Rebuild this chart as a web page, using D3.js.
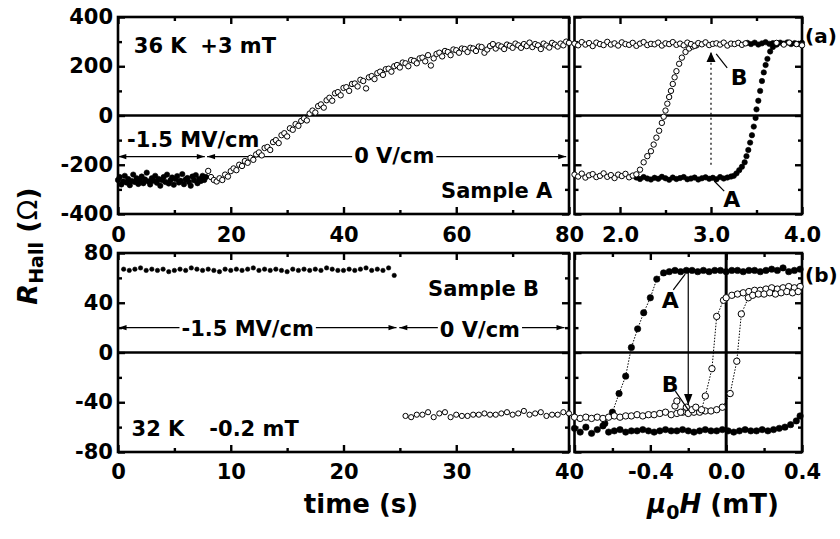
<!DOCTYPE html>
<html lang="en">
  <head>
    <meta charset="utf-8" />
    <title>Hall resistance</title>
    <script src="https://d3js.org/d3.v7.min.js"></script>
    <style>
      body { margin: 0; background: #fff; }
    </style>
  </head>
  <body>
    <div id="container"></div>
    <script>
      var width = 840;
      var height = 539;
      var FONT = "'DejaVu Sans', Arial, sans-serif";

      // ---- data ----
      // (a) left: R_Hall vs time, sample A, 36 K, +3 mT
      var aFieldStart = 0, aFieldStep = 0.3;
      var aField = [-262,-250,-280,-268,-245,-272,-258,-283,-266,-240,-270,-255,-278,-262,-248,-275,-260,-232,-268,-280,-255,-265,-245,-273,-258,-285,-262,-250,-270,-240,-276,-263,-252,-281,-258,-246,-272,-265,-238,-279,-260,-254,-270,-285,-248,-263,-242,-275,-258,-266,-245,-262,-250];
      var aZeroStart = 16, aZeroStep = 0.5;
      var aZero = [-225,-250,-262,-268,-255,-262,-240,-248,-226,-215,-222,-200,-205,-185,-192,-172,-180,-158,-150,-162,-132,-128,-140,-108,-100,-112,-80,-72,-85,-52,-58,-35,-42,-22,-12,-20,8,20,12,38,45,32,62,72,60,90,95,82,112,115,100,128,130,118,145,140,110,155,160,148,172,178,165,188,190,178,200,205,195,215,212,200,225,222,212,232,235,220,245,203,232,250,255,240,262,258,245,268,265,255,272,270,258,275,272,262,280,278,255,268,282,290,272,285,280,270,288,283,275,292,285,275,290,282,296,278,290,285,270,292,284,276,295,288,280,292,285,300,295];

      // (a) right: hysteresis loops vs field (mT)
      var aOpenTop = [292,285,298,288,294,282,296,290,286,299,288,293,284,297,290,287,295,283,292,298,286,291,289,296,284,293,290,298,287,292,285,296,290,283,294,289,297,286,291,293,288,296,284,292,290,295,287,293];
      var aOpenBottom = [-240,-248,-236,-252,-243,-238,-250,-245,-235,-249,-242,-254,-240,-246,-237,-251,-244,-239];
      var aOpenRise = [[2.22,-220],[2.26,-190],[2.30,-165],[2.34,-145],[2.37,-118],[2.40,-90],[2.43,-62],[2.46,-30],[2.48,-5],[2.50,20],[2.52,48],[2.54,75],[2.56,100],[2.58,128],[2.60,155],[2.62,180],[2.65,210],[2.68,235],[2.72,258],[2.76,272],[2.80,280],[2.84,285]];
      var aOpenEnd = [[3.72,295],[3.80,288],[3.86,296],[3.94,290],[4.0,285]];
      var aFilledBottom = [-252,-258,-250,-256,-260,-253,-257,-249,-255,-261,-252,-258,-254,-250,-259,-256,-252,-260,-255,-251,-257,-253,-259,-250,-256,-252,-248];
      var aFilledRise = [[3.25,-245],[3.28,-235],[3.31,-222],[3.34,-208],[3.37,-190],[3.39,-165],[3.41,-140],[3.43,-110],[3.45,-80],[3.47,-45],[3.49,-10],[3.50,25],[3.52,60],[3.54,100],[3.56,140],[3.58,175],[3.60,205],[3.62,230],[3.65,260],[3.68,278],[3.72,288]];
      var aFilledTop = [295,290,296,288,293,298,291,294,289,296,292,297,290,294,291,295];

      // (b) left: R_Hall vs time, sample B, 32 K, -0.2 mT
      var bField = [67,66,67,68,66,67,66,67,65,66,67,66,68,67,66,67,66,65,67,66,67,66,67,68,66,67,66,67,66,65,67,66,67,66,67,66,68,67,66,66,67,66,67,68,66,67,66,68,62];
      var bZero = [-51,-52,-50,-50,-48,-52,-49,-48,-52,-50,-51,-51,-50,-50,-49,-50,-50,-49,-48,-50,-49,-47,-50,-49,-48,-51,-50,-50,-48,-49];

      // (b) right: hysteresis loops
      var bFilledBottom = [-61,-64,-60,-65,-62,-59,-64,-63,-62,-64,-63,-63,-62,-63,-64,-63,-62,-63,-63,-62,-63,-64,-63,-62,-63,-63,-62,-63,-64,-63,-62,-63,-63,-62,-63,-62,-61,-60,-58];
      var bFilledEnd = [[0.37,-55],[0.39,-51]];
      var bFilledRise = [[-0.64,-57],[-0.60,-48],[-0.565,-33],[-0.53,-19],[-0.50,4],[-0.467,19],[-0.435,32],[-0.40,44],[-0.366,59],[-0.33,64]];
      var bFilledTop = [65,66,65,66,66,65,66,65,66,66,65,66,66,65,66,66,65,66,67,66,68,65,66,67];
      var bOpenBottom = [-52,-53,-52,-53,-52,-53,-52,-51,-52,-51,-51,-50,-51,-50,-50,-49,-48,-50,-49,-48,-49,-48,-48,-47,-47,-46,-44];
      var bOpenScatter = [[-0.27,-43],[-0.26,-39],[-0.24,-48],[-0.21,-44],[-0.18,-46],[-0.16,-44],[-0.13,-46]];
      var bOpenRise1 = [[-0.11,-35],[-0.075,-13],[-0.05,29],[-0.014,42]];
      var bOpenTop1 = [44,46,47,48,49,50,50,51,52,51,52,53,52,53];
      var bOpenRise2 = [[0.021,-33],[0.056,-7],[0.08,31],[0.117,44]];
      var bOpenTop2 = [46,47,47,48,47,48,49,48,49];

      function seq(start, step, vals) {
        return vals.map(function (v, i) { return [start + i * step, v]; });
      }

      // ---- scales ----
      var xA = d3.scaleLinear().domain([0, 80]).range([118, 569]);
      var yA = d3.scaleLinear().domain([-400, 400]).range([214, 17]);
      var xAr = d3.scaleLinear().domain([1.5, 4.0]).range([574.5, 802]);
      var xB = d3.scaleLinear().domain([0, 40]).range([118, 569]);
      var yB = d3.scaleLinear().domain([-80, 80]).range([452, 253]);
      var xBr = d3.scaleLinear().domain([-0.8, 0.4]).range([574.5, 802]);

      var svg = d3
        .select("#container")
        .append("svg")
        .attr("width", width)
        .attr("height", height)
        .style("font-family", FONT);

      // arrow heads
      var defs = svg.append("defs");
      function marker(id, len, half) {
        defs.append("marker")
          .attr("id", id)
          .attr("viewBox", (-1) + " " + (-half - 1) + " " + (len + 2) + " " + (2 * half + 2))
          .attr("refX", len)
          .attr("refY", 0)
          .attr("markerUnits", "userSpaceOnUse")
          .attr("markerWidth", len + 2)
          .attr("markerHeight", 2 * half + 2)
          .attr("orient", "auto-start-reverse")
          .append("path")
          .attr("d", "M0," + (-half) + "L" + len + ",0L0," + half + "Z")
          .attr("fill", "#000");
      }
      marker("small", 8, 2.6);
      marker("big", 11, 4.2);
      marker("mid", 10, 4.5);

      function fmtInt(d) { return String(d); }
      function fmt1(d) { return d3.format(".1f")(d).replace("\u2212", "-"); }
      function blank() { return ""; }

      function addAxis(axis, pos, values, size, fmt, pad) {
        var g = svg.append("g")
          .attr("transform", pos)
          .call(axis.tickValues(values).tickSize(size).tickPadding(pad || 3).tickFormat(fmt || blank));
        g.select(".domain").remove();
        g.selectAll("line").attr("stroke", "#000").attr("stroke-width", 2.4);
        g.selectAll("text")
          .attr("fill", "#000")
          .attr("font-size", 21)
          .attr("font-weight", "bold")
          .attr("font-family", FONT);
        return g;
      }

      function panel(x, y, xMaj, xMin, yMaj, yMin, xFmt, yFmt, xPad) {
        var x0 = x.range()[0], x1 = x.range()[1];
        var yb = y.range()[0], yt = y.range()[1];
        addAxis(d3.axisBottom(x), "translate(0," + yb + ")", xMaj, -7, xFmt, xPad);
        addAxis(d3.axisBottom(x), "translate(0," + yb + ")", xMin, -4);
        addAxis(d3.axisTop(x), "translate(0," + yt + ")", xMaj, -7);
        addAxis(d3.axisTop(x), "translate(0," + yt + ")", xMin, -4);
        addAxis(d3.axisLeft(y), "translate(" + x0 + ",0)", yMaj, -7, yFmt, 5);
        addAxis(d3.axisLeft(y), "translate(" + x0 + ",0)", yMin, -4);
        addAxis(d3.axisRight(y), "translate(" + x1 + ",0)", yMaj, -7);
        addAxis(d3.axisRight(y), "translate(" + x1 + ",0)", yMin, -4);
        // zero line
        svg.append("line")
          .attr("x1", x0).attr("x2", x1)
          .attr("y1", y(0)).attr("y2", y(0))
          .attr("stroke", "#000").attr("stroke-width", 2.6);
        svg.append("rect")
          .attr("x", x0).attr("y", yt)
          .attr("width", x1 - x0).attr("height", yb - yt)
          .attr("fill", "none").attr("stroke", "#000").attr("stroke-width", 2.6);
      }

      function dots(pts, x, y, r, filled) {
        svg.append("g")
          .selectAll("circle")
          .data(pts)
          .join("circle")
          .attr("cx", function (d) { return x(d[0]); })
          .attr("cy", function (d) { return y(d[1]); })
          .attr("r", r)
          .attr("fill", filled ? "#000" : "#fff")
          .attr("stroke", "#000")
          .attr("stroke-width", filled ? 0.6 : 1);
      }

      function dotted(pts, x, y) {
        svg.append("path")
          .datum(pts)
          .attr("d", d3.line().x(function (d) { return x(d[0]); }).y(function (d) { return y(d[1]); }))
          .attr("fill", "none")
          .attr("stroke", "#000")
          .attr("stroke-width", 1)
          .attr("stroke-dasharray", "1.5,1.5");
      }

      function label(txt, px, py, size, anchor) {
        return svg.append("text")
          .attr("x", px).attr("y", py)
          .attr("font-size", size || 21)
          .attr("font-weight", "bold")
          .attr("text-anchor", anchor || "start")
          .text(txt);
      }

      function arrow(px1, py1, px2, py2, id, dash, both) {
        var l = svg.append("line")
          .attr("x1", px1).attr("y1", py1)
          .attr("x2", px2).attr("y2", py2)
          .attr("stroke", "#000")
          .attr("stroke-width", 1.2)
          .attr("marker-end", "url(#" + id + ")");
        if (both) l.attr("marker-start", "url(#" + id + ")");
        if (dash) l.attr("stroke-dasharray", dash);
        return l;
      }

      // label sitting on top of an arrow line, white behind it
      function boxed(txt, px, py) {
        var t = label(txt, px, py, 21, "middle");
        var bb = t.node().getBBox();
        svg.insert("rect", function () { return t.node(); })
          .attr("x", bb.x - 2).attr("y", bb.y + 3)
          .attr("width", bb.width + 4).attr("height", bb.height - 6)
          .attr("fill", "#fff");
      }

      // ---- panel frames ----
      panel(xA, yA, [0, 20, 40, 60, 80], [10, 30, 50, 70], [-400, -200, 0, 200, 400], [-300, -100, 100, 300], fmtInt, fmtInt, 13);
      panel(xAr, yA, [2, 3, 4], [2.5, 3.5], [-400, -200, 0, 200, 400], [-300, -100, 100, 300], fmt1, blank, 13);
      panel(xB, yB, [0, 10, 20, 30, 40], [5, 15, 25, 35], [-80, -40, 0, 40, 80], [-60, -20, 20, 60], fmtInt, fmtInt, 12);
      panel(xBr, yB, [-0.8, -0.4, 0, 0.4], [-0.6, -0.2, 0.2], [-80, -40, 0, 40, 80], [-60, -20, 20, 60],
        function (d) { return d === -0.8 ? "" : fmt1(d); }, blank, 12);

      // vertical H = 0 line in (b) right
      svg.append("line")
        .attr("x1", xBr(0)).attr("x2", xBr(0))
        .attr("y1", yB(80)).attr("y2", yB(-80))
        .attr("stroke", "#000").attr("stroke-width", 3);

      // ---- (a) left ----
      arrow(xA(15.4), yA(-167), xA(0.05), yA(-167), "small", null, true);
      arrow(xA(15.8), yA(-167), xA(79.5), yA(-167), "small", null, true);
      dots(seq(aFieldStart, aFieldStep, aField), xA, yA, 2.7, true);
      dots(seq(aZeroStart, aZeroStep, aZero), xA, yA, 2.7, false);
      label("36 K", xA(2.8), yA(254));
      label("+3 mT", xA(14.6), yA(254));
      label("-1.5 MV/cm", xA(1.6), yA(-128));
      boxed("0 V/cm", xA(49), yA(-193));
      label("Sample A", xA(57.3), yA(-335));

      // ---- (a) right ----
      dots(seq(2.18, 0.04, aFilledBottom), xAr, yA, 2.7, true);
      dots(aFilledRise, xAr, yA, 2.7, true);
      dots(seq(3.40, 0.04, aFilledTop), xAr, yA, 2.7, true);
      dots(seq(1.5, 0.04, aOpenBottom), xAr, yA, 2.7, false);
      dots(aOpenRise, xAr, yA, 2.7, false);
      dots(seq(1.5, 0.04, aOpenTop), xAr, yA, 2.7, false);
      dots(aOpenEnd, xAr, yA, 2.7, false);
      arrow(xAr(3.0), yA(-200), xAr(3.0), yA(258), "mid", "2,3", false);
      arrow(xAr(3.178), yA(193), xAr(3.057), yA(250), "none");
      arrow(xAr(3.145), yA(-307), xAr(3.035), yA(-266), "none");
      label("B", xAr(3.31), yA(124), 22, "middle");
      label("A", xAr(3.227), yA(-372), 22, "middle");
      label("(a)", 805, 43, 20);

      // ---- (b) left ----
      arrow(xB(24.7), yB(20), xB(0.05), yB(20), "small", null, true);
      arrow(xB(24.95), yB(20), xB(39.6), yB(20), "small", null, true);
      dots(seq(0.5, 0.5, bField), xB, yB, 2.2, true);
      dots(seq(25.5, 0.5, bZero), xB, yB, 2.6, false);
      boxed("-1.5 MV/cm", xB(11.5), yB(13.3));
      boxed("0 V/cm", xB(32.1), yB(12.5));
      label("Sample B", xB(27.5), yB(45.4));
      label("32 K", xB(1.2), yB(-67));
      label("-0.2 mT", xB(8.1), yB(-67));

      // ---- (b) right ----
      dotted([[-0.67, -62]].concat(bFilledRise, [[-0.30, 65]]), xBr, yB);
      dotted([[-0.13, -46]].concat(bOpenRise1, [[0.0, 44]]), xBr, yB);
      dotted([[-0.02, -44]].concat(bOpenRise2, [[0.14, 46]]), xBr, yB);
      dots(seq(-0.8, 0.03, bFilledBottom), xBr, yB, 3.2, true);
      dots(bFilledEnd, xBr, yB, 3.2, true);
      dots(bFilledRise, xBr, yB, 3.2, true);
      dots(seq(-0.30, 0.03, bFilledTop), xBr, yB, 3.2, true);
      dots(seq(-0.8, 0.03, bOpenBottom), xBr, yB, 3.2, false);
      dots(bOpenScatter, xBr, yB, 3.2, false);
      dots(bOpenRise1, xBr, yB, 3.2, false);
      dots(seq(0.0, 0.03, bOpenTop1), xBr, yB, 3.2, false);
      dots(bOpenRise2, xBr, yB, 3.2, false);
      dots(seq(0.14, 0.03, bOpenTop2), xBr, yB, 3.2, false);
      arrow(xBr(-0.2), yB(64.7), xBr(-0.2), yB(-42.2), "big", null, false);
      arrow(xBr(-0.279), yB(50.3), xBr(-0.216), yB(63.1), "none");
      arrow(xBr(-0.268), yB(-31), xBr(-0.2), yB(-46.2), "none");
      label("A", xBr(-0.295), yB(35.8), 22, "middle");
      label("B", xBr(-0.295), yB(-31.8), 22, "middle");
      label("(b)", 805, 282, 20);

      // ---- axis titles ----
      label("time (s)", 361, 513, 26, "middle");

      var mu = svg.append("text")
        .attr("x", 713).attr("y", 513)
        .attr("font-size", 26)
        .attr("font-weight", "bold")
        .attr("text-anchor", "middle");
      mu.append("tspan").attr("font-style", "italic").text("\u03bc");
      mu.append("tspan").attr("font-size", 19).attr("dy", 6).text("0");
      mu.append("tspan").attr("font-style", "italic").attr("dy", -6).text("H");
      mu.append("tspan").text(" (mT)");

      var rh = svg.append("text")
        .attr("transform", "translate(37,246) rotate(-90)")
        .attr("font-size", 27)
        .attr("font-weight", "bold")
        .attr("text-anchor", "middle");
      rh.append("tspan").attr("font-style", "italic").text("R");
      rh.append("tspan").attr("font-size", 19).attr("dy", 6).text("Hall");
      rh.append("tspan").attr("dy", -6).text(" (");
      rh.append("tspan").attr("font-weight", "normal").text("\u03a9");
      rh.append("tspan").text(")");
    </script>
  </body>
</html>
